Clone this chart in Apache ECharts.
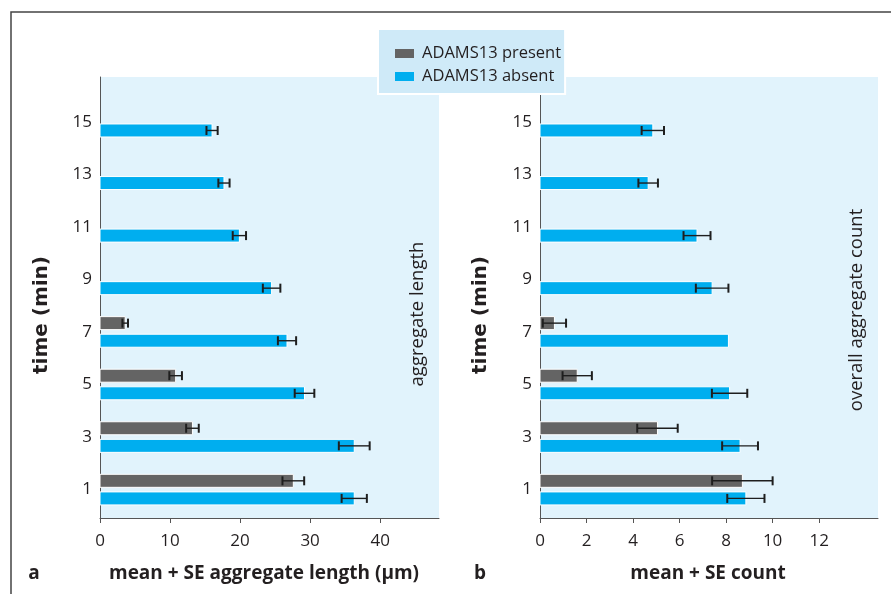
<!DOCTYPE html>
<html>
<head>
<meta charset="utf-8">
<script src="https://cdn.jsdelivr.net/npm/echarts@6/dist/echarts.min.js"></script>
<style>html,body{margin:0;padding:0;background:#fff}#c{width:891px;height:594px}</style>
</head>
<body>
<div id="c"></div>
<script>
// ---- data ----
var times = [1, 3, 5, 7, 9, 11, 13, 15];
var presentTimes = [1, 3, 5, 7];
var lengthAbsent   = [36.3, 36.3, 29.2, 26.7, 24.5, 19.9, 17.7, 16.0];
var lengthAbsentSE = [1.8, 2.2, 1.4, 1.3, 1.25, 0.95, 0.8, 0.8];
var lengthPresent   = [27.6, 13.2, 10.8, 3.6];
var lengthPresentSE = [1.55, 0.9, 0.9, 0.4];
var countAbsent   = [8.85, 8.6, 8.15, 8.1, 7.4, 6.75, 4.65, 4.85];
var countAbsentSE = [0.8, 0.77, 0.76, 0, 0.7, 0.58, 0.42, 0.48];
var countPresent   = [8.7, 5.05, 1.6, 0.62];
var countPresentSE = [1.3, 0.87, 0.63, 0.5];
var lengthTicks = [0, 10, 20, 30, 40];
var countTicks = [0, 2, 4, 6, 8, 10, 12];

var SANS = '"Open Sans","Noto Sans",sans-serif';
var WIDE = '"DejaVu Sans",sans-serif';
var INK = '#231f20';
var BLUE = '#00aeef', GRAY = '#646464';

function rows(ts, vals, ses) {
  return ts.map(function (t, i) { return [vals[i], t, ses[i]]; });
}

function makeRender(offset) {
  return function (params, api) {
    var v = api.value(0), t = api.value(1), se = api.value(2);
    var p0 = api.coord([0, t]);
    var p1 = api.coord([v, t]);
    var y = p0[1] + offset;
    var h = 13;
    var ch = [{
      type: 'rect',
      shape: { x: p0[0], y: y - h / 2, width: p1[0] - p0[0], height: h },
      style: { fill: api.visual('color'), stroke: '#ffffff', lineWidth: 1 }
    }];
    if (se > 0) {
      var a = api.coord([v - se, t])[0], b = api.coord([v + se, t])[0];
      var ls = { stroke: '#1e1e1e', lineWidth: 1.4 };
      var cs = { stroke: '#1e1e1e', lineWidth: 2 };
      ch.push({ type: 'line', shape: { x1: a, y1: y, x2: b, y2: y }, style: ls });
      ch.push({ type: 'line', shape: { x1: a, y1: y - 4.5, x2: a, y2: y + 4.5 }, style: cs });
      ch.push({ type: 'line', shape: { x1: b, y1: y - 4.5, x2: b, y2: y + 4.5 }, style: cs });
    }
    return { type: 'group', children: ch };
  };
}

function series(name, color, idx, data, offset) {
  return {
    type: 'custom', name: name, xAxisIndex: idx, yAxisIndex: idx,
    itemStyle: { color: color },
    encode: { x: 0, y: 1 },
    data: data,
    renderItem: makeRender(offset)
  };
}

var axisLine = { show: true, onZero: false, lineStyle: { color: '#555', width: 1 } };

function xAxis(idx, max, ticks) {
  return {
    type: 'value', gridIndex: idx, min: 0, max: max,
    axisLine: axisLine,
    axisTick: { show: true, length: 5, lineStyle: { color: '#555' }, customValues: ticks },
    axisLabel: { customValues: ticks, color: INK, fontFamily: SANS, fontSize: 17, margin: 15 },
    splitLine: { show: false }
  };
}
function yAxis(idx) {
  return {
    type: 'value', gridIndex: idx, min: -0.08, max: 16.7,
    axisLine: axisLine,
    axisTick: { show: false },
    axisLabel: { customValues: times, color: INK, fontFamily: SANS, fontSize: 17, margin: 8 },
    splitLine: { show: false }
  };
}

function txt(s, x, y, font, rot) {
  return { type: 'text', x: x, y: y, rotation: rot ? Math.PI / 2 : 0,
    style: { text: s, fill: INK, font: font, align: 'center', verticalAlign: 'middle' } };
}

var chart = echarts.init(document.getElementById('c'), null, { renderer: 'canvas' });
chart.setOption({
  backgroundColor: '#ffffff',
  animation: false,
  grid: [
    { left: 100, top: 77, width: 339, height: 441, show: true, backgroundColor: '#e1f3fc', borderWidth: 0 },
    { left: 540, top: 77, width: 338, height: 441, show: true, backgroundColor: '#e1f3fc', borderWidth: 0 }
  ],
  xAxis: [xAxis(0, 48.4, lengthTicks), xAxis(1, 14.53, countTicks)],
  yAxis: [yAxis(0), yAxis(1)],
  legend: {
    orient: 'vertical', left: 378, top: 29,
    data: [
      { name: 'ADAMS13 present', icon: 'rect' },
      { name: 'ADAMS13 absent', icon: 'rect' }
    ],
    itemWidth: 19, itemHeight: 9, itemGap: 2,
    padding: [14, 4, 7, 17],
    backgroundColor: '#cfeaf8', borderColor: '#ffffff', borderWidth: 2,
    textStyle: { color: INK, fontFamily: SANS, fontSize: 16.5, lineHeight: 21, padding: [0, 0, 0, 3] }
  },
  series: [
    series('ADAMS13 present', GRAY, 0, rows(presentTimes, lengthPresent, lengthPresentSE), -8.8),
    series('ADAMS13 absent', BLUE, 0, rows(times, lengthAbsent, lengthAbsentSE), 8.8),
    series('ADAMS13 present', GRAY, 1, rows(presentTimes, countPresent, countPresentSE), -8.8),
    series('ADAMS13 absent', BLUE, 1, rows(times, countAbsent, countAbsentSE), 8.8)
  ],
  graphic: [
    { type: 'polyline', shape: { points: [[11, 594], [11, 12], [891, 12]] }, style: { stroke: '#444', lineWidth: 1.5, fill: null }, z: 100 },
    txt('time (min)', 42, 315, 'bold 20px ' + WIDE, true),
    txt('time (min)', 481, 315, 'bold 20px ' + WIDE, true),
    txt('aggregate length', 418, 314, '18.5px ' + SANS, true),
    txt('overall aggregate count', 857, 310, '18.5px ' + SANS, true),
    txt('a', 34, 574, 'bold 19px ' + SANS),
    txt('b', 480, 574, 'bold 19px ' + SANS),
    txt('mean + SE aggregate length (µm)', 264, 574, 'bold 19px ' + SANS),
    txt('mean + SE count', 708, 574, 'bold 19px ' + SANS)
  ]
});
</script>
</body>
</html>
